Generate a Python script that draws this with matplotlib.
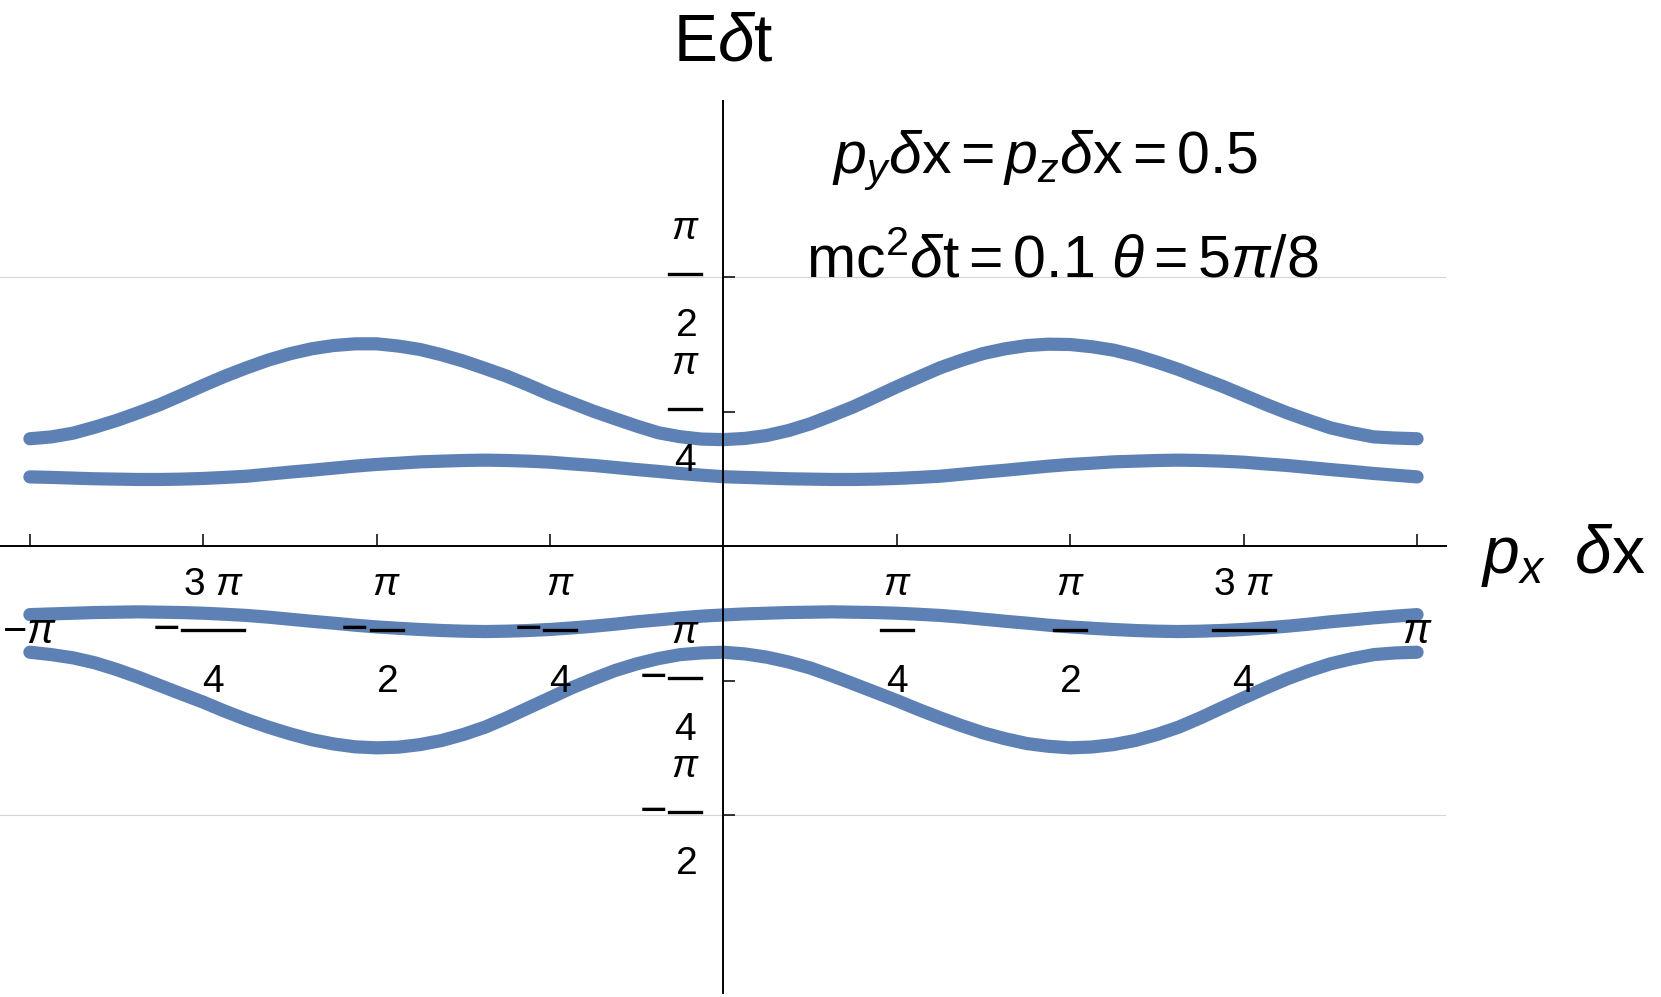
import numpy as np
import matplotlib
matplotlib.use("Agg")
import matplotlib.pyplot as plt
from matplotlib.lines import Line2D

plt.rcParams['font.family'] = ['Liberation Sans', 'DejaVu Sans']
plt.rcParams['mathtext.fontset'] = 'custom'
plt.rcParams['mathtext.rm'] = 'Liberation Sans'
plt.rcParams['mathtext.it'] = 'Liberation Sans:italic'

# malla de momento p_x dx (pasos de pi/32)
px = np.arange(-32, 33) * np.pi / 32

# cuatro bandas de energia E dt
band1 = [0.628, 0.639, 0.661, 0.696, 0.735, 0.780, 0.828, 0.883, 0.940, 0.994, 1.043,
         1.088, 1.125, 1.154, 1.173, 1.183, 1.183, 1.170, 1.150, 1.119, 1.082, 1.039,
         0.994, 0.942, 0.887, 0.838, 0.789, 0.745, 0.702, 0.663, 0.640, 0.626, 0.623,
         0.630, 0.647, 0.676, 0.715, 0.764, 0.815, 0.873, 0.932, 0.988, 1.043, 1.088,
         1.127, 1.154, 1.173, 1.181, 1.179, 1.166, 1.146, 1.115, 1.076, 1.033, 0.984,
         0.936, 0.883, 0.830, 0.780, 0.735, 0.692, 0.663, 0.639, 0.632, 0.628]
band2 = [0.405, 0.402, 0.398, 0.394, 0.392, 0.390, 0.390, 0.392, 0.396, 0.402, 0.409,
         0.421, 0.433, 0.444, 0.456, 0.468, 0.478, 0.485, 0.493, 0.497, 0.501, 0.503,
         0.501, 0.497, 0.491, 0.481, 0.472, 0.460, 0.448, 0.437, 0.425, 0.415, 0.406,
         0.402, 0.398, 0.394, 0.392, 0.390, 0.390, 0.392, 0.396, 0.402, 0.409, 0.421,
         0.433, 0.444, 0.456, 0.468, 0.478, 0.485, 0.493, 0.497, 0.501, 0.503, 0.501,
         0.497, 0.491, 0.481, 0.472, 0.460, 0.448, 0.437, 0.425, 0.415, 0.405]
band3 = [-0.400, -0.396, -0.392, -0.388, -0.386, -0.384, -0.386, -0.388, -0.392, -0.398,
         -0.405, -0.415, -0.427, -0.439, -0.450, -0.462, -0.472, -0.480, -0.487, -0.493,
         -0.497, -0.499, -0.497, -0.493, -0.487, -0.478, -0.468, -0.456, -0.442, -0.431,
         -0.419, -0.409, -0.402, -0.396, -0.392, -0.388, -0.386, -0.384, -0.386, -0.388,
         -0.392, -0.398, -0.405, -0.415, -0.427, -0.439, -0.450, -0.462, -0.472, -0.480,
         -0.487, -0.493, -0.497, -0.499, -0.497, -0.493, -0.487, -0.478, -0.468, -0.456,
         -0.442, -0.431, -0.419, -0.409, -0.400]
band4 = [-0.620, -0.634, -0.653, -0.682, -0.721, -0.766, -0.815, -0.864, -0.912, -0.965,
         -1.014, -1.058, -1.097, -1.131, -1.156, -1.173, -1.179, -1.175, -1.160, -1.136,
         -1.101, -1.058, -1.004, -0.945, -0.887, -0.828, -0.776, -0.727, -0.688, -0.657,
         -0.634, -0.624, -0.620, -0.630, -0.649, -0.677, -0.712, -0.757, -0.805, -0.854,
         -0.903, -0.955, -1.004, -1.050, -1.092, -1.126, -1.154, -1.170, -1.179, -1.174,
         -1.160, -1.136, -1.101, -1.058, -1.004, -0.945, -0.887, -0.830, -0.776, -0.729,
         -0.688, -0.658, -0.634, -0.624, -0.620]

# ticks: (valor, numerador, denominador, negativo)
xticks = [(-np.pi, None, None, True), (-3 * np.pi / 4, r'$3\ \pi$', '$4$', True),
          (-np.pi / 2, r'$\pi$', '$2$', True), (-np.pi / 4, r'$\pi$', '$4$', True),
          (np.pi / 4, r'$\pi$', '$4$', False), (np.pi / 2, r'$\pi$', '$2$', False),
          (3 * np.pi / 4, r'$3\ \pi$', '$4$', False), (np.pi, None, None, False)]
yticks = [(np.pi / 2, r'$\pi$', '$2$', False), (np.pi / 4, r'$\pi$', '$4$', False),
          (-np.pi / 4, r'$\pi$', '$4$', True), (-np.pi / 2, r'$\pi$', '$2$', True)]
grid_y = [-np.pi / 2, np.pi / 2]

W, H = 1661, 997
fig = plt.figure(figsize=(W / 100, H / 100), dpi=100)
ax = fig.add_axes([0, 0.0044, 0.8706, 0.8947])
ax.set_xlim(-3.277, 3.273)
ax.set_ylim(-2.61, 2.605)

color = '#5E81B5'
for b in [band1, band2, band3, band4]:
    ax.plot(px, b, color=color, lw=9.5, solid_capstyle='round', solid_joinstyle='round', zorder=2)

for g in grid_y:
    ax.axhline(g, color='#d4d4d4', lw=0.8, zorder=0)

for s in ['top', 'right']:
    ax.spines[s].set_visible(False)
ax.spines['left'].set_position(('data', 0))
ax.spines['bottom'].set_position(('data', 0))
for s in ['left', 'bottom']:
    ax.spines[s].set_linewidth(1.4)
ax.set_xticks([t[0] for t in xticks])
ax.set_yticks([t[0] for t in yticks])
ax.set_xticklabels([])
ax.set_yticklabels([])
ax.tick_params(direction='in', length=8.5, width=1.1)

fs = 28


def frac_label(cx, cy, num, den, neg, width):
    # fraccion estilo Mathematica centrada en (cx, cy) en pixeles
    fig.text(cx / W, (cy + 45) / H, num, ha='center', va='center', fontsize=fs)
    fig.text(cx / W, (cy - 52) / H, den, ha='center', va='center', fontsize=fs)
    fig.add_artist(Line2D([(cx - width / 2) / W, (cx + width / 2) / W], [cy / H, cy / H],
                          color='black', lw=2.4, transform=fig.transFigure))
    if neg:
        fig.text((cx - width / 2 - 3) / W, cy / H, '$-$', ha='right', va='center', fontsize=34)


for val, num, den, neg in xticks:
    tx, ty = ax.transData.transform((val, 0))
    cy = ty - 84
    if num is None:
        fig.text(tx / W, (cy - 2) / H, r'$-\pi$' if neg else r'$\pi$', ha='center', va='center', fontsize=30)
        continue
    w = 62 if '3' in num else 32
    cx = tx + 10 if neg else tx
    frac_label(cx, cy, num, den, neg, w)

for val, num, den, neg in yticks:
    tx, ty = ax.transData.transform((0, val))
    frac_label(tx - 38, ty + 3, num, den, neg, 32)

# etiquetas de ejes
fig.text(723.5 / W, 1 - 60.5 / H, r'E$\delta$t', ha='center', va='baseline', fontsize=47.5)
fig.text(1481 / W, 1 - 573 / H, r'$p_x\;\;\delta\mathrm{x}$', ha='left', va='baseline', fontsize=47.5)

# parametros
fig.text(1045 / W, 1 - 172.5 / H, r'$p_y\delta\mathrm{x}=p_z\delta\mathrm{x}=0.5$',
         ha='center', va='baseline', fontsize=42.5)
fig.text(1062.5 / W, 1 - 277.5 / H, r'$\mathrm{mc}^2\delta\mathrm{t}=0.1\ \theta=5\pi/8$',
         ha='center', va='baseline', fontsize=42.5)

fig.savefig('out.png', dpi=100)
